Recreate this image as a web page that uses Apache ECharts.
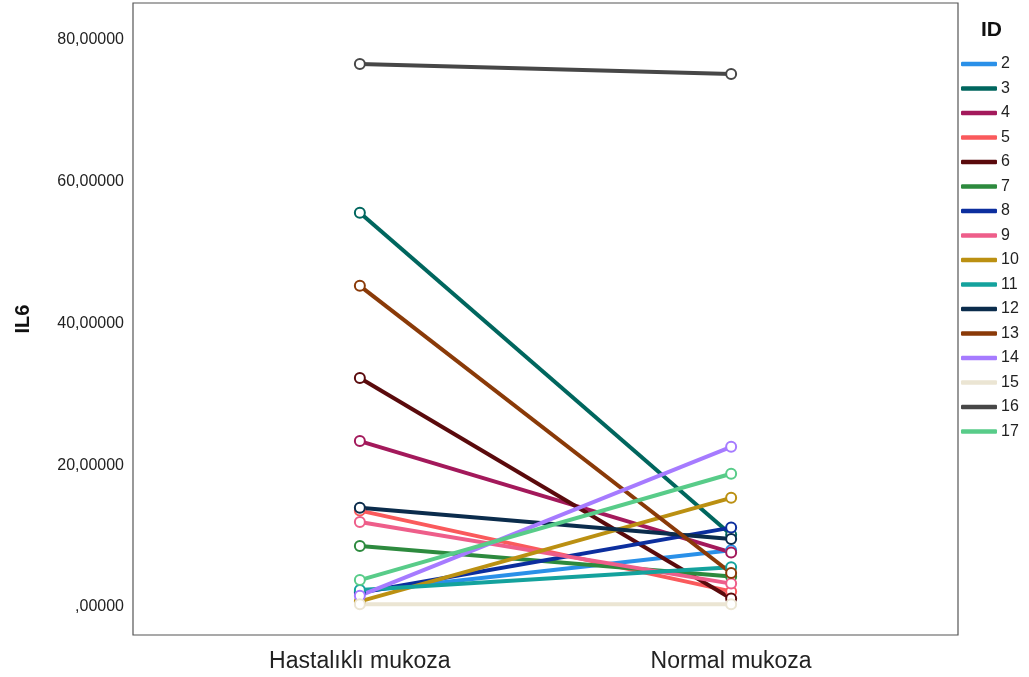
<!DOCTYPE html>
<html>
<head>
<meta charset="utf-8">
<script src="https://cdn.jsdelivr.net/npm/echarts@6/dist/echarts.min.js"></script>
<style>html,body{margin:0;padding:0;background:#fff;}#c{width:1029px;height:677px;}</style>
</head>
<body>
<div id="c"></div>
<script>
var categories = ['Hastalıklı mukoza', 'Normal mukoza'];
var ids = ['2','3','4','5','6','7','8','9','10','11','12','13','14','15','16','17'];
var hastalikli = [2.2, 55.6, 23.4, 13.6, 32.3, 8.6, 2.0, 12.0, 0.8, 2.4, 14.0, 45.3, 1.6, 0.4, 76.6, 3.8];
var normal     = [8.0, 10.2, 7.7, 2.2, 1.2, 4.3, 11.2, 3.3, 15.4, 5.6, 9.6, 4.8, 22.6, 0.4, 75.2, 18.8];
var colors = ['#2a90e8','#00665e','#a3195b','#fa5a5c','#5a0a0c','#2d8a3e','#0c2e9e','#ee5e8a','#bb9012','#14a29d','#0b2c4c','#8a3a08','#a67bff','#ebe5d3','#474747','#58cc89'];
var yTicks = [0, 20, 40, 60, 80];

var series = ids.map(function (id, i) {
  return {
    name: id,
    type: 'line',
    data: [[0, hastalikli[i]], [1, normal[i]]],
    symbol: 'emptyCircle',
    symbolSize: 10,
    lineStyle: { width: 4, color: colors[i] },
    itemStyle: { color: colors[i], borderWidth: 1.8 },
    emphasis: { disabled: true },
    z: 2
  };
});

var chart = echarts.init(document.getElementById('c'), null, { renderer: 'canvas' });
chart.setOption({
  animation: false,
  backgroundColor: '#fff',
  textStyle: { fontFamily: 'Liberation Sans, Arial, sans-serif' },
  title: {
    text: 'ID', left: 976, top: 15,
    textStyle: { fontSize: 21, fontWeight: 'bold', color: '#111', fontFamily: 'Liberation Sans, Arial, sans-serif' }
  },
  legend: {
    orient: 'vertical', left: 956, top: 51,
    icon: 'roundRect', itemWidth: 36, itemHeight: 4.5, itemGap: 8.5,
    textStyle: { fontSize: 16, color: '#222', lineHeight: 16, padding: [0,0,0,-1] },
    data: ids
  },
  grid: { left: 133, right: 71, top: 3, bottom: 42, show: true, borderColor: '#555', borderWidth: 1.2, backgroundColor: 'transparent' },
  xAxis: {
    type: 'value', min: -0.611, max: 1.611,
    axisLine: { show: false }, axisTick: { show: false }, splitLine: { show: false },
    axisLabel: {
      customValues: [0, 1], margin: 15, fontSize: 23, color: '#222',
      formatter: function (v) { return categories[Math.round(v)]; }
    }
  },
  yAxis: {
    type: 'value', min: -3.95, max: 85.2,
    name: 'IL6', nameLocation: 'middle', nameGap: 100, nameRotate: 90,
    nameTextStyle: { fontSize: 20, fontWeight: 'bold', color: '#111' },
    axisLine: { show: false }, axisTick: { show: false }, splitLine: { show: false },
    axisLabel: {
      customValues: yTicks, margin: 9, fontSize: 16, color: '#222',
      formatter: function (v) { return v === 0 ? ',00000' : v.toFixed(5).replace('.', ','); }
    }
  },
  series: series
});
</script>
</body>
</html>
